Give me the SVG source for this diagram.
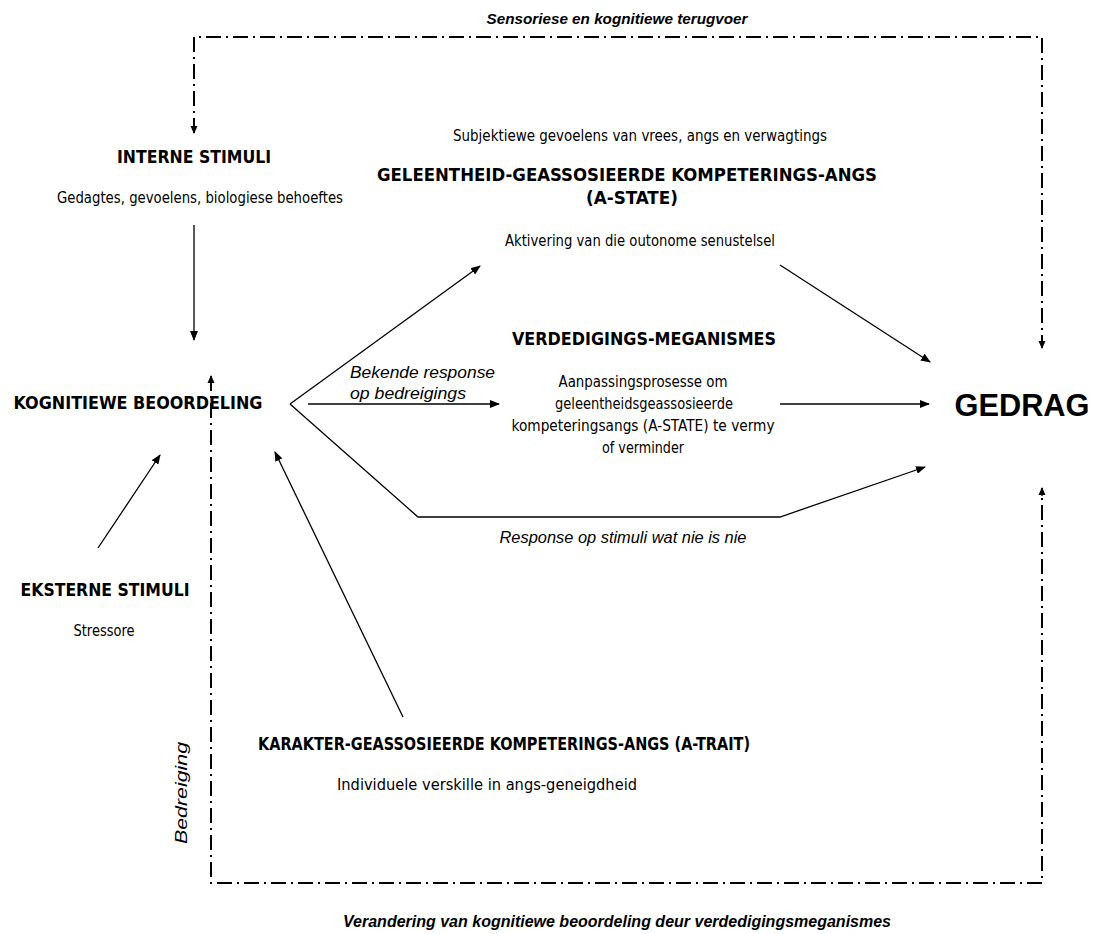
<svg xmlns="http://www.w3.org/2000/svg" width="1102" height="934" viewBox="0 0 1102 934">
<style>
.t{font-family:'DejaVu Sans Condensed','DejaVu Sans',sans-serif;fill:#000;text-anchor:middle}
.b{font-weight:bold;font-size:17px}
.r{font-size:15px}
.i{font-family:'Liberation Sans',Arial,sans-serif;font-style:italic;font-size:16px;fill:#000}
.bi{font-family:'Liberation Sans',Arial,sans-serif;font-style:italic;font-weight:bold;fill:#000;text-anchor:middle}
.s{stroke:#000;stroke-width:1.3;fill:none}
.d{stroke:#000;stroke-width:2;fill:none;stroke-dasharray:15 5 2 5}
</style>
<defs>
<marker id="ah" markerWidth="10" markerHeight="8" refX="9" refY="4" orient="auto" markerUnits="userSpaceOnUse">
<path d="M0,0 L10,4 L0,8 z" fill="#000"/>
</marker>
<marker id="ahs" markerWidth="8" markerHeight="8" refX="7" refY="4" orient="auto" markerUnits="userSpaceOnUse">
<path d="M0,0.5 L8,4 L0,7.5 z" fill="#000"/>
</marker>
</defs>
<g id="connectors">
<path class="d" d="M194,133 V37 H1042 V346"/>
<path class="s" d="M194,126 L194,133" marker-end="url(#ahs)"/>
<path class="s" d="M1042,340 L1042,348" marker-end="url(#ahs)"/>
<path class="d" d="M211,376 V883 H1042 V488"/>
<path class="s" d="M211,384 L211,376" marker-end="url(#ahs)"/>
<path class="s" d="M1042,496 L1042,488" marker-end="url(#ahs)"/>
<path class="s" d="M194,225 L194,340" marker-end="url(#ah)"/>
<path class="s" d="M290,404 L480,266" marker-end="url(#ah)"/>
<path class="s" d="M290,404 L418,517 L780,517 L925,467" marker-end="url(#ah)"/>
<path class="s" d="M308,404 L499,404" marker-end="url(#ah)"/>
<path class="s" d="M780,265 L930,362" marker-end="url(#ah)"/>
<path class="s" d="M780,404 L929,404" marker-end="url(#ah)"/>
<path class="s" d="M98,548 L160,455" marker-end="url(#ah)"/>
<path class="s" d="M403,717 L275,452" marker-end="url(#ah)"/>
</g>
<g id="label-top"><text class="bi" x="617" y="24" font-size="15" textLength="261" lengthAdjust="spacingAndGlyphs">Sensoriese en kognitiewe terugvoer</text></g>
<g id="label-bottom"><text class="bi" x="617" y="927" font-size="16" textLength="548" lengthAdjust="spacingAndGlyphs">Verandering van kognitiewe beoordeling deur verdedigingsmeganismes</text></g>
<g id="label-bedreiging"><text class="i" transform="translate(187,793) rotate(-90)" text-anchor="middle" font-size="17" textLength="102" lengthAdjust="spacingAndGlyphs">Bedreiging</text></g>
<g id="interne">
<text class="t b" x="194" y="163" textLength="154" lengthAdjust="spacingAndGlyphs">INTERNE STIMULI</text>
<text class="t r" x="200" y="203" textLength="286" lengthAdjust="spacingAndGlyphs">Gedagtes, gevoelens, biologiese behoeftes</text>
</g>
<g id="kognitiewe"><text class="t b" x="138" y="409" textLength="249" lengthAdjust="spacingAndGlyphs">KOGNITIEWE BEOORDELING</text></g>
<g id="eksterne">
<text class="t b" x="105" y="596" textLength="169" lengthAdjust="spacingAndGlyphs">EKSTERNE STIMULI</text>
<text class="t r" x="104" y="636" textLength="61" lengthAdjust="spacingAndGlyphs">Stressore</text>
</g>
<g id="astate">
<text class="t r" x="640" y="141" textLength="374" lengthAdjust="spacingAndGlyphs">Subjektiewe gevoelens van vrees, angs en verwagtings</text>
<text class="t b" x="627" y="181" textLength="500" lengthAdjust="spacingAndGlyphs">GELEENTHEID-GEASSOSIEERDE KOMPETERINGS-ANGS</text>
<text class="t b" x="632" y="204" textLength="92" lengthAdjust="spacingAndGlyphs">(A-STATE)</text>
<text class="t r" x="640" y="246" textLength="270" lengthAdjust="spacingAndGlyphs">Aktivering van die outonome  senustelsel</text>
</g>
<g id="verdediging">
<text class="t b" x="644" y="345" textLength="264" lengthAdjust="spacingAndGlyphs">VERDEDIGINGS-MEGANISMES</text>
<text class="t r" x="643" y="387" textLength="169" lengthAdjust="spacingAndGlyphs">Aanpassingsprosesse om</text>
<text class="t r" x="644" y="409" textLength="178" lengthAdjust="spacingAndGlyphs">geleentheidsgeassosieerde</text>
<text class="t r" x="643" y="431" textLength="263" lengthAdjust="spacingAndGlyphs">kompeteringsangs (A-STATE) te vermy</text>
<text class="t r" x="643" y="453" textLength="82" lengthAdjust="spacingAndGlyphs">of verminder</text>
</g>
<g id="label-bekende">
<text class="i" x="350" y="378" textLength="145" lengthAdjust="spacingAndGlyphs">Bekende response</text>
<text class="i" x="350" y="399" textLength="116" lengthAdjust="spacingAndGlyphs">op bedreigings</text>
</g>
<g id="label-response"><text class="i" x="623" y="543" text-anchor="middle" textLength="247" lengthAdjust="spacingAndGlyphs">Response op stimuli wat nie is nie</text></g>
<g id="gedrag"><text x="1022" y="416" font-family="'Liberation Sans',Arial,sans-serif" font-weight="bold" font-size="31" text-anchor="middle" textLength="135" lengthAdjust="spacingAndGlyphs">GEDRAG</text></g>
<g id="atrait">
<text class="t b" x="504" y="750" textLength="492" lengthAdjust="spacingAndGlyphs">KARAKTER-GEASSOSIEERDE KOMPETERINGS-ANGS (A-TRAIT)</text>
<text class="t r" x="487" y="790" textLength="300" lengthAdjust="spacingAndGlyphs">Individuele verskille in angs-geneigdheid</text>
</g>
</svg>
